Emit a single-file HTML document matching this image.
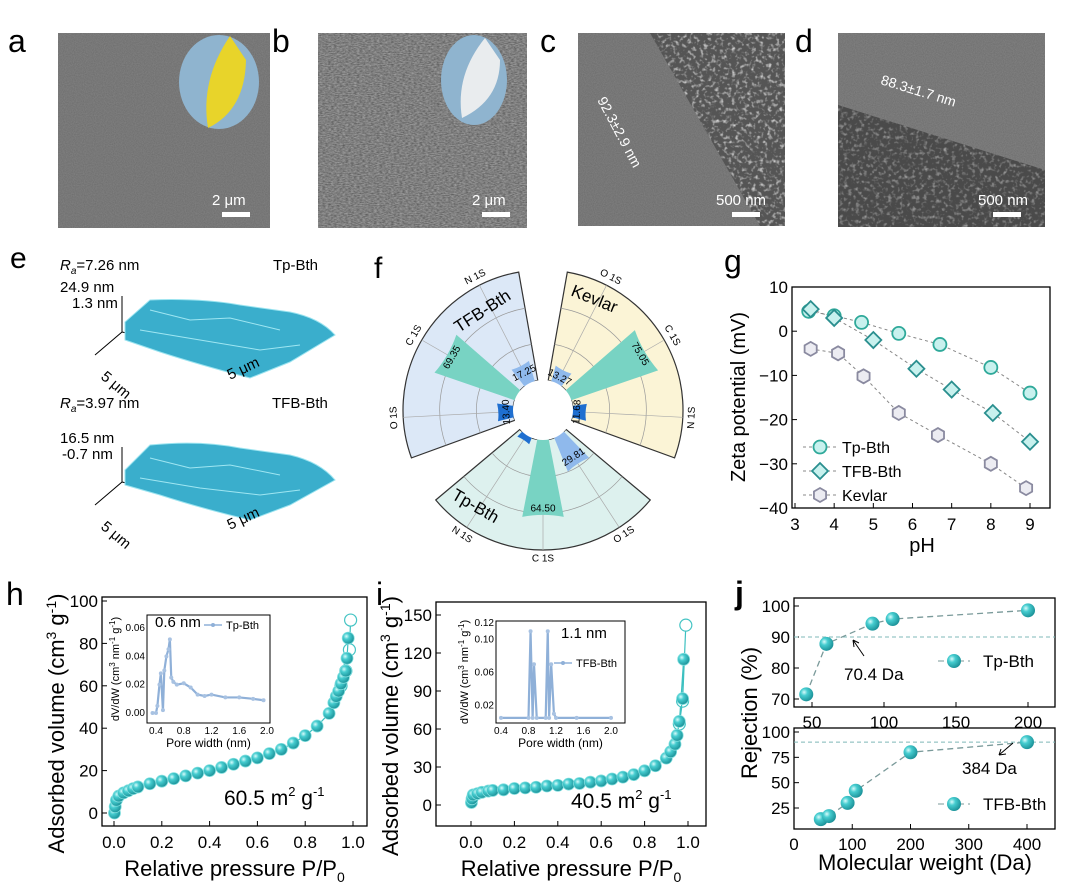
<!DOCTYPE html>
<html><head><meta charset="utf-8"><style>
html,body{margin:0;padding:0;background:#fff}
svg{display:block;font-family:"Liberation Sans",sans-serif}
</style></head><body>
<svg id="fig" width="1080" height="883" viewBox="0 0 1080 883" xmlns="http://www.w3.org/2000/svg">
<defs>
<radialGradient id="ball" cx="0.35" cy="0.35" r="0.7"><stop offset="0" stop-color="#d8fbfb"/><stop offset="0.35" stop-color="#46cdd0"/><stop offset="1" stop-color="#1a8f96"/></radialGradient>
<filter id="noise1" x="0" y="0" width="1" height="1"><feTurbulence type="fractalNoise" baseFrequency="0.9" numOctaves="2" seed="3"/><feColorMatrix type="matrix" values="0 0 0 0 0.45 0 0 0 0 0.45 0 0 0 0 0.45 0 0 0 0.35 0"/></filter>
<filter id="noise2" x="0" y="0" width="1" height="1"><feTurbulence type="fractalNoise" baseFrequency="0.35 0.9" numOctaves="3" seed="7"/><feColorMatrix type="matrix" values="0 0 0 0 0.55 0 0 0 0 0.55 0 0 0 0 0.55 0 0 0 0.9 -0.1"/></filter>
<filter id="noise3" x="0" y="0" width="1" height="1"><feTurbulence type="fractalNoise" baseFrequency="0.25" numOctaves="2" seed="11"/><feColorMatrix type="matrix" values="0 0 0 0 0.85 0 0 0 0 0.85 0 0 0 0 0.85 0 0 0 2.2 -1.1"/></filter>
<clipPath id="clipc"><polygon points="650,33 785,33 785,226 760,226"/></clipPath>
<clipPath id="clipd"><polygon points="838,105 1045,170 1045,227 838,227"/></clipPath>
</defs>

<g>
<text x="8" y="52" font-size="32">a</text>
<rect x="58" y="33" width="212" height="195" fill="#6b6b6b"/>
<rect x="58" y="33" width="212" height="195" filter="url(#noise1)"/>
<ellipse cx="219" cy="82" rx="40" ry="47" fill="#8fb4cf"/>
<path d="M230,36 Q200,80 208,128 Q245,110 246,60 Z" fill="#e8d42a"/>
<text x="212" y="205" font-size="15" fill="#fff">2 μm</text>
<rect x="222" y="212" width="28" height="5" fill="#fff"/>
</g>
<g>
<text x="272" y="52" font-size="32">b</text>
<rect x="318" y="33" width="209" height="195" fill="#5a5a5a"/>
<rect x="318" y="33" width="209" height="195" filter="url(#noise2)"/>
<ellipse cx="474" cy="80" rx="33" ry="45" fill="#8fb4cf"/>
<path d="M485,38 Q455,75 462,118 Q500,100 500,60 Z" fill="#e9ecee"/>
<text x="472" y="205" font-size="15" fill="#fff">2 μm</text>
<rect x="482" y="212" width="28" height="5" fill="#fff"/>
</g>
<g>
<text x="540" y="52" font-size="32">c</text>
<rect x="578" y="33" width="207" height="193" fill="#6a6a6a"/>
<rect x="578" y="33" width="207" height="193" filter="url(#noise1)"/>
<g clip-path="url(#clipc)"><rect x="578" y="33" width="207" height="193" fill="#555"/><rect x="578" y="33" width="207" height="193" filter="url(#noise3)"/></g>
<text transform="translate(597,100) rotate(62)" font-size="14" fill="#fff">92.3±2.9 nm</text>
<text x="716" y="205" font-size="15" fill="#fff">500 nm</text>
<rect x="732" y="212" width="28" height="5" fill="#fff"/>
</g>
<g>
<text x="795" y="52" font-size="32">d</text>
<rect x="838" y="33" width="207" height="194" fill="#6c6c6c"/>
<rect x="838" y="33" width="207" height="194" filter="url(#noise1)"/>
<g clip-path="url(#clipd)"><rect x="838" y="33" width="207" height="194" fill="#4a4a4a"/><rect x="838" y="33" width="207" height="194" filter="url(#noise3)" opacity="0.6"/></g>
<text transform="translate(880,84) rotate(17)" font-size="14" fill="#fff">88.3±1.7 nm</text>
<text x="978" y="205" font-size="15" fill="#fff">500 nm</text>
<rect x="993" y="212" width="28" height="5" fill="#fff"/>
</g>

<g font-size="15">
<text x="10" y="268" font-size="30">e</text>
<text x="60" y="270"><tspan font-style="italic">R</tspan><tspan font-size="10" font-style="italic" dy="4">a</tspan><tspan dy="-4">=7.26 nm</tspan></text>
<text x="273" y="270">Tp-Bth</text>
<text x="60" y="292">24.9 nm</text>
<text x="72" y="308">1.3 nm</text>
<path d="M122,296 L122,332 L95,355 M122,332 L260,364" stroke="#000" fill="none"/>
<path d="M125,322 L150,300 Q200,298 240,305 L290,312 Q320,318 335,335 L290,362 L250,378 Q200,365 160,352 L125,340 Z" fill="#3aaecc" stroke="#9be4f0" stroke-width="1"/>
<path d="M150,310 L190,320 L230,318 L280,330 M140,330 L200,340 L260,350 L300,345" stroke="#9fe6f2" fill="none"/>
<text transform="translate(100,378) rotate(40)">5 μm</text>
<text transform="translate(230,380) rotate(-25)">5 μm</text>
<text x="60" y="408"><tspan font-style="italic">R</tspan><tspan font-size="10" font-style="italic" dy="4">a</tspan><tspan dy="-4">=3.97 nm</tspan></text>
<text x="272" y="408">TFB-Bth</text>
<text x="60" y="443">16.5 nm</text>
<text x="62" y="459">-0.7 nm</text>
<path d="M122,447 L122,482 L95,505 M122,482 L260,515" stroke="#000" fill="none"/>
<path d="M125,470 L150,445 Q200,440 240,448 L290,455 Q320,462 335,480 L290,505 L250,520 Q200,508 160,495 L125,485 Z" fill="#3aaecc" stroke="#9be4f0" stroke-width="1"/>
<path d="M150,458 L190,468 L230,465 L280,475 M140,478 L200,488 L260,495 L300,490" stroke="#9fe6f2" fill="none"/>
<text transform="translate(100,528) rotate(40)">5 μm</text>
<text transform="translate(230,530) rotate(-25)">5 μm</text>
</g>

<g id="pf"><text x="374" y="278" font-size="30">f</text></g>
<g id="pg"><text x="724" y="272" font-size="32">g</text></g>
<g id="ph"><text x="6" y="605" font-size="32">h</text></g>
<g id="pi"><text x="376" y="605" font-size="32">i</text></g>
<g id="pj"><text x="735" y="604" font-size="32" font-weight="bold">j</text></g>
</svg>
<script>
const fGroups = ['TFB-Bth','Kevlar','Tp-Bth'];
const fCats = [['N 1S','C 1S','O 1S'],['O 1S','C 1S','N 1S'],['O 1S','C 1S','N 1S']];
const fValues = [[17.25,69.35,13.40],[13.27,75.05,11.68],[29.81,64.50,5.69]];
const fValueLabels = [['17.25','69.35','13.40'],['13.27','75.05','11.68'],['29.81','64.50','5.69']];

const gSeries = ['Tp-Bth','TFB-Bth','Kevlar'];
const gX = [[3.35,4,4.7,5.65,6.7,8,9],[3.4,4,5,6.1,7,8.05,9],[3.4,4.1,4.75,5.65,6.65,8,8.9]];
const gY = [[4.5,3.5,2,-0.5,-3,-8.2,-14],[5,3,-2,-8.5,-13.2,-18.5,-25],[-4,-5,-10.2,-18.5,-23.5,-30,-35.5]];
const gXTicks = [3,4,5,6,7,8,9];
const gYTicks = [10,0,-10,-20,-30,-40];

const hP = [0.002,0.005,0.01,0.02,0.04,0.06,0.08,0.1,0.15,0.2,0.25,0.3,0.35,0.4,0.45,0.5,0.55,0.6,0.65,0.7,0.75,0.8,0.85,0.9,0.92,0.93,0.94,0.95,0.96,0.97,0.975,0.98];
const hV = [0,3,6,8,9.5,10.5,11.5,12.3,13.8,15,16.2,17.5,18.8,20,21.5,23,24.5,26,28,30,33,36.5,41,47,52,55,57.5,61,64,67,73,82.5];
const hDesP = [0.99,0.985,0.97,0.95];
const hDesV = [91,77,67,60];
const hInsetW = [0.35,0.4,0.42,0.45,0.47,0.5,0.52,0.55,0.58,0.6,0.62,0.65,0.7,0.8,0.9,1.0,1.1,1.2,1.4,1.6,1.8,1.95];
const hInsetD = [0,0,0.005,0.02,0.028,0.002,0.03,0.04,0.045,0.052,0.025,0.022,0.02,0.021,0.018,0.013,0.012,0.013,0.011,0.011,0.01,0.009];

const iP = [0.002,0.005,0.01,0.03,0.05,0.08,0.1,0.15,0.2,0.25,0.3,0.35,0.4,0.45,0.5,0.55,0.6,0.65,0.7,0.75,0.8,0.85,0.9,0.92,0.94,0.95,0.96,0.975,0.98];
const iV = [2,5,8,9,10,11,11.5,12,13,13.5,14,15,15.5,16.5,17,18,19,20.5,22,24,27,31,37,42,48,55,66,84,115];
const iDesP = [0.99,0.975,0.96];
const iDesV = [142,82,64];
const iInsetW = [0.4,0.8,0.83,0.86,0.88,0.92,1.05,1.08,1.1,1.13,1.17,1.2,1.5,2.0];
const iInsetD = [0.005,0.005,0.11,0.005,0.07,0.005,0.005,0.11,0.005,0.07,0.01,0.005,0.005,0.005];

const jTopX = [46,60,92,106,200];
const jTopY = [71.5,87.8,94.3,95.8,98.6];
const jBotX = [46,60,92,106,200,400];
const jBotY = [14,17,30,42,80,90];

const NS='http://www.w3.org/2000/svg';
function mk(parent, tag, attrs, text){const e=document.createElementNS(NS,tag);for(const k in attrs)e.setAttribute(k,attrs[k]);if(text!==undefined)e.textContent=text;parent.appendChild(e);return e;}
function lin(d0,d1,p0,p1){return v=>p0+(v-d0)*(p1-p0)/(d1-d0);}

(function(){
const g=document.getElementById('pf');
const cx=543, cy=410, r0=30, rs=v=>r0+v*110/90;
const starts=[100,80,-40], dirs=[1,-1,-1];
const fills=['#dce8f7','#fbf4d6','#ddf1ee'];
const barCols=['#8fb9ec','#78d3c3','#1f6fd0'];
const gLab=[[483,312,-33],[594,300,22],[475,507,30]];
const rad=a=>a*Math.PI/180;
const pt=(a,r)=>[cx+r*Math.cos(rad(a)), cy-r*Math.sin(rad(a))];
for(let s=0;s<3;s++){
  const a0=starts[s], a1=starts[s]+dirs[s]*100;
  const lo=Math.min(a0,a1), hi=Math.max(a0,a1);
  const R=rs(90);
  const p1=pt(hi,r0),p2=pt(hi,R),p3=pt(lo,R),p4=pt(lo,r0);
  const sec=mk(g,'path',{d:`M${p1} L${p2} A${R},${R} 0 0 1 ${p3} L${p4} A${r0},${r0} 0 0 0 ${p1}Z`,fill:fills[s],stroke:'#333','stroke-width':1.2});
  
  
  for(const gv of [30,60]){const rr=rs(gv),q1=pt(hi,rr),q2=pt(lo,rr);
    const gc=mk(g,'path',{d:`M${q1} A${rr},${rr} 0 0 1 ${q2}`,fill:'none',stroke:'#999','stroke-width':0.7});
    
    }
  for(let c=0;c<3;c++){
    const ac=a0+dirs[s]*(17+33*c);
    const q1=pt(ac,r0),q2=pt(ac,R);
    const rl=mk(g,'line',{x1:q1[0],y1:q1[1],x2:q2[0],y2:q2[1],stroke:'#aaa','stroke-width':0.7});
    
    
    const rv=rs(fValues[s][c]), h=11;
    const b1=pt(ac+h,r0),b2=pt(ac+h,rv),b3=pt(ac-h,rv),b4=pt(ac-h,r0);
    const bar=mk(g,'path',{d:`M${b1} L${b2} A${rv},${rv} 0 0 0 ${b3} L${b4}Z`,fill:barCols[c]});
    
    
    const lp=pt(ac,rv-10);
    let rot=-ac+90; if(ac<0) rot=-ac-90;
    const vl=mk(g,'text',{x:lp[0],y:lp[1],'font-size':10,'text-anchor':'middle','dominant-baseline':'middle',transform:`rotate(${rot} ${lp[0]} ${lp[1]})`},fValueLabels[s][c]);
    
    
    const cp=pt(ac,R+9);
    const cl=mk(g,'text',{x:cp[0],y:cp[1],'font-size':10,'text-anchor':'middle','dominant-baseline':'middle',transform:`rotate(${ac<0?-ac-90:-ac+90} ${cp[0]} ${cp[1]})`},fCats[s][c]);
    
    
  }
  const gl=mk(g,'text',{x:gLab[s][0],y:gLab[s][1],'font-size':17,'text-anchor':'middle','dominant-baseline':'middle',transform:`rotate(${gLab[s][2]} ${gLab[s][0]} ${gLab[s][1]})`},fGroups[s]);
  
  
}
const hole=mk(g,'circle',{cx:cx,cy:cy,r:r0,fill:'#fff'});


})();

(function(){
const g=document.getElementById('pg');
const X=lin(3,9,795,1030), Y=lin(10,-40,287,508);
const box=mk(g,'rect',{x:792,y:287,width:258,height:221,fill:'none',stroke:'#000','stroke-width':1.3});


gXTicks.forEach(t=>{const tl=mk(g,'text',{x:X(t),y:530,'font-size':17,'text-anchor':'middle'},String(t));
 
 
 mk(g,'line',{x1:X(t),x2:X(t),y1:508,y2:503,stroke:'#000'});});
gYTicks.forEach(t=>{const tl=mk(g,'text',{x:788,y:Y(t)+6,'font-size':17,'text-anchor':'end'},String(t).replace('-','−'));
 
 
 mk(g,'line',{x1:792,x2:797,y1:Y(t),y2:Y(t),stroke:'#000'});});
const xt=mk(g,'text',{x:922,y:552,'font-size':20,'text-anchor':'middle'},'pH');


const yt=mk(g,'text',{x:0,y:0,'font-size':20,'text-anchor':'middle',transform:'translate(745,397) rotate(-90)'},'Zeta potential (mV)');


const cols=['#2fa99a','#2a8f8f','#8a8aa0'], fillc=['#c8f1ee','#c8f1ee','#ececf2'];
function marker(parent,s,x,y){
 if(s===0) return mk(parent,'circle',{cx:x,cy:y,r:6.5,fill:fillc[s],stroke:cols[s],'stroke-width':1.8});
 if(s===1) return mk(parent,'path',{d:`M${x},${y-8} L${x+8},${y} L${x},${y+8} L${x-8},${y}Z`,fill:fillc[s],stroke:cols[s],'stroke-width':1.8});
 let d='';for(let k=0;k<6;k++){const a=Math.PI/3*k+Math.PI/6;d+=(k?'L':'M')+(x+7*Math.cos(a))+','+(y+7*Math.sin(a));}
 return mk(parent,'path',{d:d+'Z',fill:fillc[s],stroke:cols[s],'stroke-width':1.8});
}
gSeries.forEach((name,s)=>{
 const pts=gX[s].map((x,i)=>X(x)+','+Y(gY[s][i])).join(' ');
 const ln=mk(g,'polyline',{points:pts,fill:'none',stroke:'#888','stroke-dasharray':'3,3','stroke-width':1});
 
 
 gX[s].forEach((x,i)=>{const m=marker(g,s,X(x),Y(gY[s][i]));
  
  });
 const ly=447+s*24;
 mk(g,'line',{x1:803,x2:836,y1:ly,y2:ly,stroke:'#888','stroke-dasharray':'3,3'});
 const lm=marker(g,s,820,ly);
 
 
 const lt=mk(g,'text',{x:842,y:ly+6,'font-size':16},name);
 
 
});
})();

function iso(id,box,xr,yr,xTicks,yTicks,P,V,dP,dV,area,inset){
 const g=document.getElementById(id);
 const X=lin(0,1,xr[0],xr[1]), Y=lin(yTicks[0],yTicks[yTicks.length-1],yr[0],yr[1]);
 const fr=mk(g,'rect',{x:box[0],y:box[1],width:box[2]-box[0],height:box[3]-box[1],fill:'none',stroke:'#000','stroke-width':1.3});
 
 
 xTicks.forEach(t=>{const tl=mk(g,'text',{x:X(t),y:box[3]+22,'font-size':17,'text-anchor':'middle'},t.toFixed(1));
  
  
  mk(g,'line',{x1:X(t),x2:X(t),y1:box[3],y2:box[3]-5,stroke:'#000'});});
 yTicks.forEach(t=>{const tl=mk(g,'text',{x:box[0]-4,y:Y(t)+6,'font-size':17,'text-anchor':'end'},String(t));
  
  
  mk(g,'line',{x1:box[0],x2:box[0]+5,y1:Y(t),y2:Y(t),stroke:'#000'});});
 const cx=(box[0]+box[2])/2;
 const xt=mk(g,'text',{x:cx,y:box[3]+50,'font-size':22,'text-anchor':'middle'});
 
 
 xt.innerHTML='Relative pressure P/P<tspan font-size="14" dy="6">0</tspan>';
 const yt=mk(g,'text',{x:0,y:0,'font-size':22,'text-anchor':'middle',transform:`translate(${box[0]-38},${(box[1]+box[3])/2+12}) rotate(-90)`});
 
 
 yt.innerHTML='Adsorbed volume (cm<tspan font-size="14" dy="-8">3</tspan><tspan dy="8"> g</tspan><tspan font-size="14" dy="-8">-1</tspan><tspan dy="8">)</tspan>';
 const dl=mk(g,'polyline',{points:dP.map((p,i)=>X(p)+','+Y(dV[i])).join(' ')+' '+X(P[P.length-1])+','+Y(V[V.length-1]),fill:'none',stroke:'#3cc0c0','stroke-width':1.2});
 
 
 dP.forEach((p,i)=>{const c=mk(g,'circle',{cx:X(p),cy:Y(dV[i]),r:6,fill:'#fff',stroke:'#45c4c4','stroke-width':1.2});
  
  });
 const al=mk(g,'polyline',{points:P.map((p,i)=>X(p)+','+Y(V[i])).join(' '),fill:'none',stroke:'#3cc0c0','stroke-width':1.2});
 
 
 P.forEach((p,i)=>{const c=mk(g,'circle',{cx:X(p),cy:Y(V[i]),r:6,fill:'url(#ball)',stroke:'#7fdede','stroke-width':0.8});
  
  });
 const at=mk(g,'text',{x:area[0],y:area[1],'font-size':21});
 
 
 at.innerHTML=area[2]+' m<tspan font-size="13" dy="-9">2</tspan><tspan dy="9"> g</tspan><tspan font-size="13" dy="-9">-1</tspan>';
 const ib=inset.box;
 const ifr=mk(g,'rect',{x:ib[0],y:ib[1],width:ib[2]-ib[0],height:ib[3]-ib[1],fill:'#fff',stroke:'#000','stroke-width':1});
 
 
 const IX=lin(inset.xd[0],inset.xd[1],inset.xp[0],inset.xp[1]), IY=lin(inset.yd[0],inset.yd[1],inset.yp[0],inset.yp[1]);
 inset.xt.forEach(t=>{const tl=mk(g,'text',{x:IX(t),y:ib[3]+11,'font-size':10,'text-anchor':'middle'},t.toFixed(1));
  
  });
 inset.yt.forEach(t=>{const tl=mk(g,'text',{x:ib[0]-2,y:IY(t)+3,'font-size':10,'text-anchor':'end'},t.toFixed(2));
  
  });
 const ixl=mk(g,'text',{x:(ib[0]+ib[2])/2,y:ib[3]+24,'font-size':12,'text-anchor':'middle'},'Pore width (nm)');
 
 
 const iyl=mk(g,'text',{x:0,y:0,'font-size':11,'text-anchor':'middle',transform:`translate(${ib[0]-28},${(ib[1]+ib[3])/2}) rotate(-90)`});
 
 
 iyl.innerHTML='dV/dW (cm<tspan font-size="8" dy="-4">3</tspan><tspan dy="4"> nm</tspan><tspan font-size="8" dy="-4">-1</tspan><tspan dy="4"> g</tspan><tspan font-size="8" dy="-4">-1</tspan><tspan dy="4">)</tspan>';
 const il=mk(g,'polyline',{points:inset.w.map((w,i)=>IX(w)+','+IY(inset.d[i])).join(' '),fill:'none',stroke:'#8fb0d8','stroke-width':2.2});
 
 
 inset.w.forEach((w,i)=>{const c=mk(g,'circle',{cx:IX(w),cy:IY(inset.d[i]),r:2,fill:'#a8c2e2'});
  
  });
 const pk=mk(g,'text',{x:inset.peak[0],y:inset.peak[1],'font-size':15},inset.peak[2]);
 
 
 mk(g,'line',{x1:inset.leg[0],x2:inset.leg[0]+18,y1:inset.leg[1],y2:inset.leg[1],stroke:'#8fb0d8','stroke-width':1.5});
 mk(g,'circle',{cx:inset.leg[0]+9,cy:inset.leg[1],r:2,fill:'#8fb0d8'});
 const lg=mk(g,'text',{x:inset.leg[0]+22,y:inset.leg[1]+4,'font-size':11},inset.leg[2]);
 
 
}
iso('ph',[102,597,367,826],[114,353],[813,601],[0,0.2,0.4,0.6,0.8,1.0],[0,20,40,60,80,100],hP,hV,hDesP,hDesV,[224,805,'60.5'],
 {box:[147,615,270,723],xd:[0.4,2.0],xp:[156,267],yd:[0,0.06],yp:[713,628],xt:[0.4,0.8,1.2,1.6,2.0],yt:[0,0.02,0.04,0.06],w:hInsetW,d:hInsetD,peak:[155,627,'0.6 nm'],leg:[204,625,'Tp-Bth']});
iso('pi',[436,602,706,826],[471,688],[805,615],[0,0.2,0.4,0.6,0.8,1.0],[0,30,60,90,120,150],iP,iV,iDesP,iDesV,[571,808,'40.5'],
 {box:[496,621,625,723],xd:[0.4,2.0],xp:[501,611],yd:[0,0.12],yp:[722,623],xt:[0.4,0.8,1.2,1.6,2.0],yt:[0.02,0.06,0.10,0.12],w:iInsetW,d:iInsetD,peak:[561,638,'1.1 nm'],leg:[554,663,'TFB-Bth']});

(function(){
const g=document.getElementById('pj');
function sub(box,xd,xp,yd,yp,xt,yt,XS,YS,name,legY){
 const X=lin(xd[0],xd[1],xp[0],xp[1]), Y=lin(yd[0],yd[1],yp[0],yp[1]);
 const fr=mk(g,'rect',{x:box[0],y:box[1],width:box[2]-box[0],height:box[3]-box[1],fill:'none',stroke:'#000','stroke-width':1.3});
 
 
 xt.forEach(t=>{const tl=mk(g,'text',{x:X(t),y:box[3]+21,'font-size':17,'text-anchor':'middle'},String(t));
  
  
  mk(g,'line',{x1:X(t),x2:X(t),y1:box[3],y2:box[3]-5,stroke:'#000'});});
 yt.forEach(t=>{const tl=mk(g,'text',{x:box[0]-4,y:Y(t)+6,'font-size':17,'text-anchor':'end'},String(t));
  
  
  mk(g,'line',{x1:box[0],x2:box[0]+5,y1:Y(t),y2:Y(t),stroke:'#000'});});
 const th=mk(g,'line',{x1:box[0],x2:box[2],y1:Y(90),y2:Y(90),stroke:'#7fb8b8','stroke-dasharray':'4,3'});
 
 
 const ln=mk(g,'polyline',{points:XS.map((x,i)=>X(x)+','+Y(YS[i])).join(' '),fill:'none',stroke:'#7a9a9a','stroke-dasharray':'6,4','stroke-width':1.3});
 
 
 XS.forEach((x,i)=>{const c=mk(g,'circle',{cx:X(x),cy:Y(YS[i]),r:7,fill:'url(#ball)'});
  
  });
 mk(g,'line',{x1:938,x2:970,y1:legY,y2:legY,stroke:'#7a9a9a','stroke-dasharray':'6,4'});
 const lm=mk(g,'circle',{cx:954,cy:legY,r:7,fill:'url(#ball)'});
 
 
 const lt=mk(g,'text',{x:983,y:legY+6,'font-size':17},name);
 
 
}
sub([794,598,1055,707],[50,200],[812,1028],[100,70],[606,699],[50,100,150,200],[100,90,80,70],jTopX,jTopY,'Tp-Bth',661);
sub([794,728,1055,829],[0,400],[794,1027],[100,25],[732,808],[0,100,200,300,400],[100,75,50,25],jBotX,jBotY,'TFB-Bth',804);
const a1=mk(g,'text',{x:844,y:680,'font-size':17},'70.4 Da');


mk(g,'path',{d:'M864,656 L853,640 M853,640 l1,7 M853,640 l6,3',stroke:'#000',fill:'none'});
const a2=mk(g,'text',{x:962,y:774,'font-size':17},'384 Da');


mk(g,'path',{d:'M1013,743 L999,755 M999,755 l7,-1 M999,755 l2,-6',stroke:'#000',fill:'none'});
const ax=mk(g,'text',{x:925,y:870,'font-size':22,'text-anchor':'middle'},'Molecular weight (Da)');


const ay=mk(g,'text',{x:0,y:0,'font-size':22,'text-anchor':'middle',transform:'translate(757,713) rotate(-90)'},'Rejection (%)');


})();
</script>
</body></html>
